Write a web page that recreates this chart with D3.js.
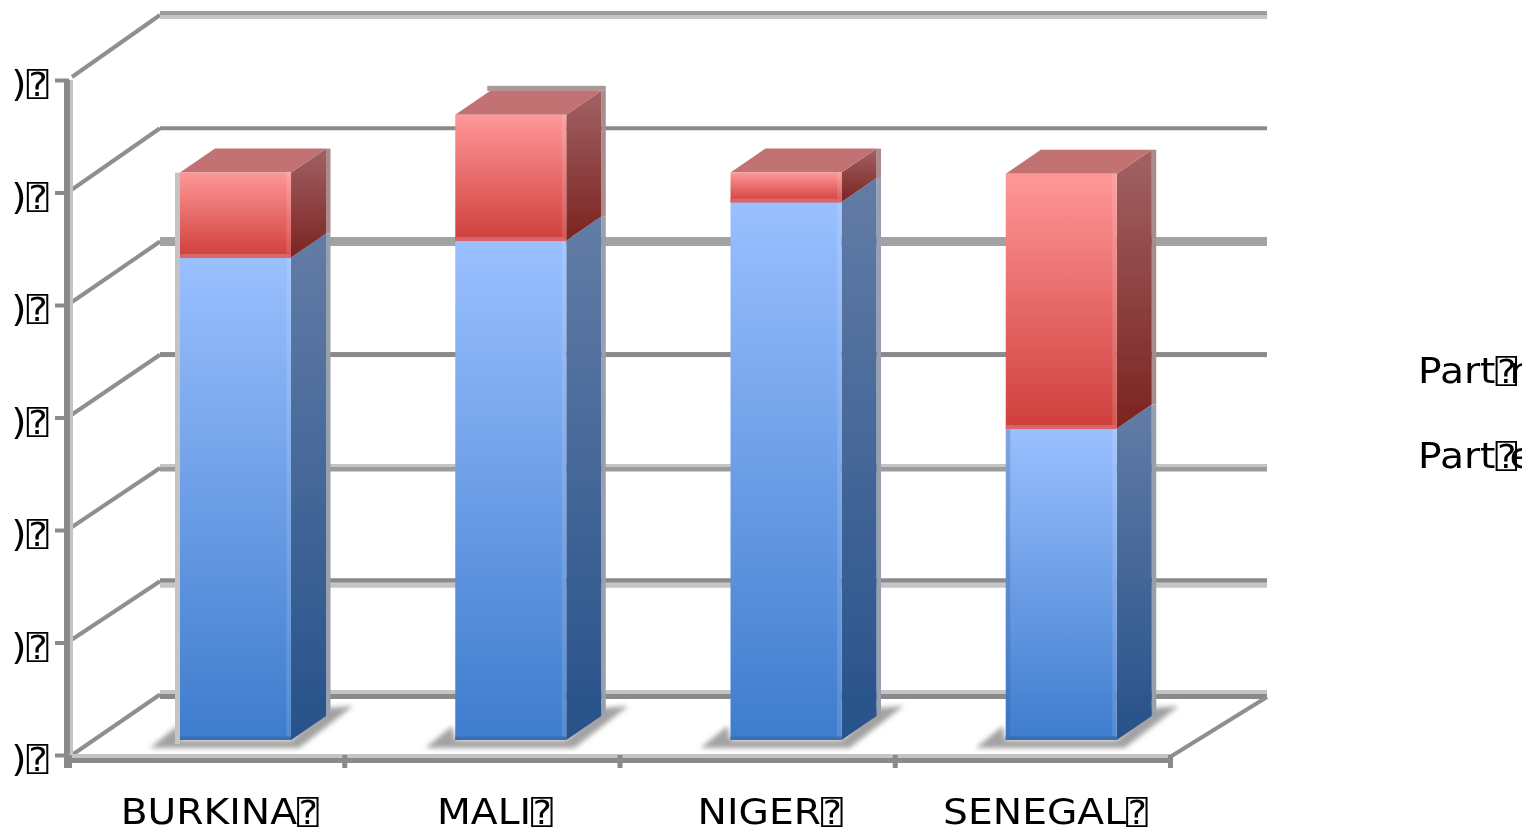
<!DOCTYPE html>
<html><head><meta charset="utf-8">
<script src="https://cdn.jsdelivr.net/npm/d3@7/dist/d3.min.js"></script>
<style>html,body{margin:0;padding:0;background:#fff;overflow:hidden}svg{display:block}text{font-family:"DejaVu Sans";fill:#000}</style>
</head><body><svg id="c" width="1540" height="828"></svg>
<script>
const MISSING = "\u2370";
const categories = ["BURKINA", "MALI", "NIGER", "SENEGAL"];
const blueValues = [4.26, 4.41, 4.75, 2.75];
const redValues = [0.75, 1.11, 0.26, 2.25];
const yTicks = [0, 1, 2, 3, 4, 5, 6];
const tickLabel = ")";
const legendLabels = ["Part", "Part"];
const legendTails = ["r", "e"];

const svg = d3.select("#c");
const defs = svg.append("defs");
const grad = (id, a, b) => {
  const g = defs.append("linearGradient").attr("id", id).attr("x1", 0).attr("y1", 0).attr("x2", 0).attr("y2", 1);
  g.append("stop").attr("offset", 0).attr("stop-color", a);
  g.append("stop").attr("offset", 1).attr("stop-color", b);
};
grad("bf", "#9ac0ff", "#3e7ccd");
grad("bs", "#627ca6", "#27528a");
grad("rf", "#ff9797", "#cf3f3c");
grad("rs", "#a16264", "#7b2321");
defs.append("filter").attr("id", "soft").attr("x", "-5%").attr("y", "-5%").attr("width", "110%").attr("height", "110%")
  .append("feGaussianBlur").attr("stdDeviation", 0.45);
defs.append("filter").attr("id", "shadow").attr("x", "-30%").attr("y", "-30%").attr("width", "160%").attr("height", "160%")
  .append("feGaussianBlur").attr("stdDeviation", 2.6);
defs.append("clipPath").attr("id", "clipL").append("rect").attr("x", 0).attr("y", 0).attr("width", 1522).attr("height", 828);

const root = svg.append("g").attr("filter", "url(#soft)");

const FONT = 36, BOX_FONT = 33, STRETCH = 1.09;
const label = (sel, str) => {
  sel.text(null).attr("font-size", FONT).attr("font-family", "DejaVu Sans");
  sel.append("tspan").text(str);
  sel.append("tspan").attr("font-family", "DejaVu Sans Mono").attr("font-size", BOX_FONT).text(MISSING);
};

const x = d3.scaleBand().domain(categories).range([69, 1170]);
const yFront = d3.scaleLinear().domain([0, 6]).range([755, 80]);
const yBack = d3.scaleLinear().domain([0, 6]).range([694.5, 15]);
const yBar = d3.scaleLinear().domain([0, 6]).range([740, 60.5]);
const DARK = "#8a8a8a", MID = "#9c9c9c", LIGHT = "#c4c4c4";
const depthX = 35, depthY = 24;
const backLeft = 160, backRight = 1267;

const gridLook = [
  {d:[-0.5,4.5],dc:DARK,l:[-4.5,-0.5]},
  {d:[-3,1.5],dc:DARK,l:[1.5,6.5]},
  {d:[-1,3.5],dc:MID,l:[-4,-1]},
  {d:[-2.7,2.3],dc:DARK,l:null},
  {d:[-4.5,4.5],dc:"#a2a2a2",l:null},
  {d:[-2,2],dc:DARK,l:null},
  {d:[-4,0],dc:MID,l:[0,4]}
];
const g = root.append("g");
yTicks.forEach((t, i) => {
  const yb = yBack(t), look = gridLook[i], yf = yFront(t);
  g.append("line").attr("x1", 72).attr("x2", backLeft).attr("y1", i === 0 ? yf : yf - 3).attr("y2", yb)
    .attr("stroke", "#8f8f8f").attr("stroke-width", 4);
  g.append("rect").attr("x", backLeft).attr("width", backRight - backLeft).attr("y", yb + look.d[0]).attr("height", look.d[1] - look.d[0]).attr("fill", look.dc);
  if (look.l) g.append("rect").attr("x", backLeft).attr("width", backRight - backLeft).attr("y", yb + look.l[0]).attr("height", look.l[1] - look.l[0]).attr("fill", LIGHT);
});
g.append("line").attr("x1", 1170).attr("x2", backRight).attr("y1", 757).attr("y2", 697).attr("stroke", "#8f8f8f").attr("stroke-width", 4);

g.append("rect").attr("x", 64).attr("y", yFront(6)).attr("width", 6).attr("height", 688).attr("fill", DARK);
g.append("rect").attr("x", 70).attr("y", yFront(6)).attr("width", 3).attr("height", 676).attr("fill", LIGHT);
g.append("rect").attr("x", 68).attr("y", 754).attr("width", 1102).attr("height", 4).attr("fill", LIGHT);
g.append("rect").attr("x", 66).attr("y", 758).attr("width", 1104).attr("height", 5).attr("fill", DARK);
d3.range(categories.length + 1).forEach(i => {
  const px = x.range()[0] + i * x.step();
  g.append("rect").attr("x", px - 2).attr("y", 755).attr("width", 5).attr("height", 13).attr("fill", DARK);
});

const yAxis = d3.axisLeft(yFront).tickValues(yTicks).tickSize(14).tickPadding(0).tickFormat(() => "");
const ya = root.append("g").attr("transform", "translate(69,0)").call(yAxis);
ya.select(".domain").remove();
ya.selectAll("line").attr("stroke", DARK).attr("stroke-width", 4);
ya.selectAll("text").each(function () { label(d3.select(this), tickLabel); })
  .attr("x", -19).attr("dy", 15.5).attr("transform", `scale(${STRETCH},1)`);

const xAxis = d3.axisBottom(x).tickSize(0).tickPadding(0);
const xa = root.append("g").attr("transform", "translate(13,793)").call(xAxis);
xa.select(".domain").remove();
xa.selectAll("text").each(function (d) { label(d3.select(this), d); })
  .attr("dy", 31).attr("transform", `scale(${STRETCH},1)`);

const barX = c => x(c) + x.bandwidth() * 0.4033;
const barW = x.bandwidth() * 0.4033;
const pts = a => a.map(p => p.join(",")).join(" ");
categories.forEach((c, i) => {
  const bx = barX(c), rx = bx + barW, y0 = yBar(0);
  const y1 = yBar(blueValues[i]), y2 = yBar(blueValues[i] + redValues[i]);
  const gb = root.append("g");
  gb.append("polygon").attr("points", pts([[bx - 30, y0 + 8], [bx - 3, y0 - 14], [bx, y0], [rx, y0], [rx + depthX, y0 - depthY - 8], [rx + 62, y0 - 34], [rx + 8, y0 + 8]]))
    .attr("fill", "#a2a2a2").attr("filter", "url(#shadow)");
  if (i === 0) gb.append("rect").attr("x", bx - 5).attr("y", y2).attr("width", 5).attr("height", y0 - y2 + 4).attr("fill", LIGHT);
  gb.append("rect").attr("x", rx + depthX).attr("y", y1 - depthY).attr("width", 4.5).attr("height", y0 - y1).attr("fill", "#98a0ae");
  gb.append("rect").attr("x", rx + depthX).attr("y", y2 - depthY).attr("width", 4.5).attr("height", y1 - y2).attr("fill", "#ab8c8c");
  if (i === 1) gb.append("rect").attr("x", bx + 32).attr("y", y2 - depthY - 5).attr("width", barW + depthX - 32 + 4.5).attr("height", 5).attr("fill", "#ab9595");
  gb.append("polygon").attr("points", pts([[rx, y1], [rx + depthX, y1 - depthY], [rx + depthX, y0 - depthY], [rx, y0]])).attr("fill", "url(#bs)");
  gb.append("polygon").attr("points", pts([[rx, y2], [rx + depthX, y2 - depthY], [rx + depthX, y1 - depthY], [rx, y1]])).attr("fill", "url(#rs)");
  gb.append("polygon").attr("points", pts([[bx, y2], [bx + depthX, y2 - depthY], [rx + depthX, y2 - depthY], [rx, y2]])).attr("fill", "#c27273");
  gb.append("rect").attr("x", bx).attr("y", y1).attr("width", barW).attr("height", y0 - y1).attr("fill", "url(#bf)");
  gb.append("rect").attr("x", bx).attr("y", y2).attr("width", barW).attr("height", y1 - y2).attr("fill", "url(#rf)");
  gb.append("rect").attr("x", rx - 4.5).attr("y", y2).attr("width", 4.5).attr("height", y0 - y2).attr("fill", "#fff").attr("opacity", 0.12);
  if (i === 3) gb.append("rect").attr("x", bx).attr("y", y1).attr("width", 4.5).attr("height", y0 - y1).attr("fill", "#34558a").attr("opacity", 0.25);
  gb.append("rect").attr("x", bx).attr("y", y1 - 3.5).attr("width", barW).attr("height", 4).attr("fill", "#d8666a");
  gb.append("rect").attr("x", bx).attr("y", y0 - 3.5).attr("width", barW).attr("height", 3.5).attr("fill", "#3a6db0");
});

const leg = root.append("g").attr("clip-path", "url(#clipL)");
const legendY = d3.scalePoint().domain(d3.range(legendLabels.length)).range([383, 468]);
legendLabels.forEach((d, i) => {
  const row = leg.append("g").attr("transform", `translate(1418,${legendY(i)}) scale(${STRETCH},1)`);
  label(row.append("text"), d);
  row.append("text").attr("x", 84).attr("font-size", FONT).text(legendTails[i]);
});
</script></body></html>
